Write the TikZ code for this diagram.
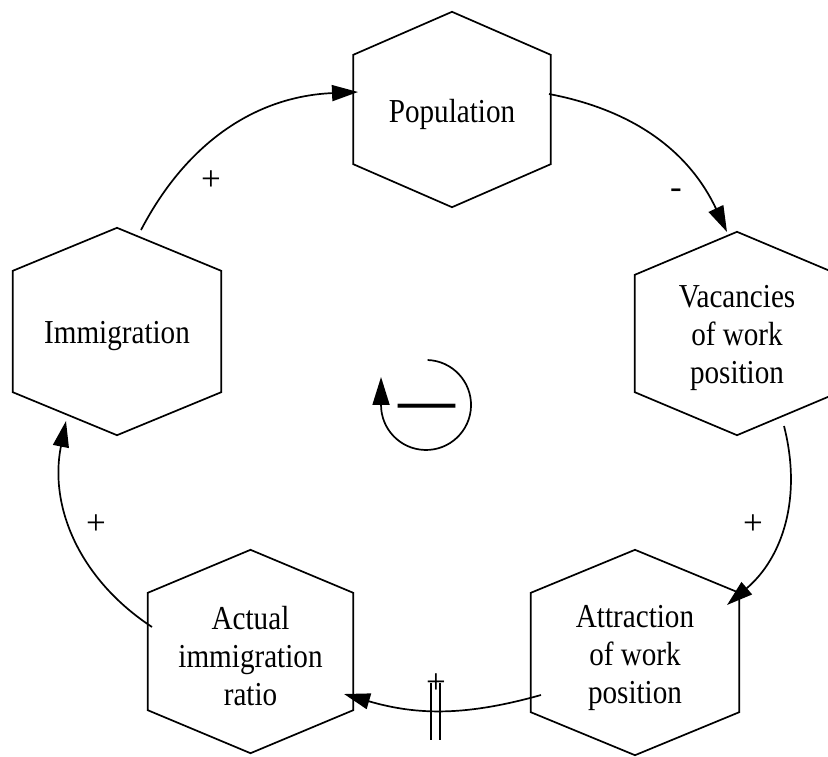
\documentclass[tikz,border=0pt]{standalone}
\usepackage{fontspec}
\setmainfont{Liberation Serif}[FakeStretch=0.87]
\newfontfamily\signfont{Liberation Serif}
\usetikzlibrary{arrows.meta,calc}
\begin{document}
\begin{tikzpicture}[x=1pt,y=-1pt,
  hexnode/.style={inner sep=0pt},
  hextext/.style={inner sep=0pt, align=center, font=\fontsize{33.5}{38}\selectfont},
  hexline/.style={line width=1.7pt, line join=miter},
  link/.style={line width=1.7pt, -{Triangle[length=26pt,width=16pt]}},
  sign/.style={font=\signfont\fontsize{35}{38}\selectfont, inner sep=0pt},
  delayline/.style={line width=1.7pt}]
\useasboundingbox (0,0) rectangle (828,756);
\clip (0,0) rectangle (828,756);

% variables (hexagon frames)
\node[hexnode, minimum width=197pt, minimum height=195pt] (pop) at (452,109.5) {};
\node[hexnode, minimum width=204pt, minimum height=203pt] (vac) at (737,333.5) {};
\node[hexnode, minimum width=208pt, minimum height=207pt] (imm) at (117,331.5) {};
\node[hexnode, minimum width=205pt, minimum height=203pt] (act) at (250.5,651.5) {};
\node[hexnode, minimum width=208pt, minimum height=205pt] (att) at (635,652.5) {};

% variable names
\node[hextext] (popt) at ([yshift=-5pt]pop.center) {Population};
\node[hextext] (vact) at ([yshift=-4pt]vac.center) {Vacancies\\of work\\position};
\node[hextext] (immt) at ([yshift=-5pt]imm.center) {Immigration};
\node[hextext] (actt) at ([yshift=-5pt]act.center) {Actual\\immigration\\ratio};
\node[hextext] (attt) at ([yshift=-5pt]att.center) {Attraction\\of work\\position};

\foreach \n in {pop,vac,imm,act,att}
  \draw[hexline] (\n.north) -- ([yshift=-43pt]\n.north east) -- ([yshift=43pt]\n.south east)
    -- (\n.south) -- ([yshift=43pt]\n.south west) -- ([yshift=-43pt]\n.north west) -- cycle;

% link end points
\coordinate (a1) at ($(imm)+(24,-101.5)$);
\coordinate (a2) at ($(pop)+(-94,-17.5)$);
\coordinate (b1) at ($(pop)+(97,-15.5)$);
\coordinate (b2) at ($(vac)+(-10,-101.5)$);
\coordinate (c1) at ($(vac)+(47,92.5)$);
\coordinate (c2) at ($(att)+(92,-47.5)$);
\coordinate (d1) at ($(att)+(-94,42.5)$);
\coordinate (d2) at ($(act)+(93.5,42.5)$);
\coordinate (e1) at ($(act)+(-98.5,-24.5)$);
\coordinate (e2) at ($(imm)+(-51,89.5)$);

% links
\draw[link] (a1) to[bend left=30] (a2);
\draw[link] (b1) to[bend left=27] (b2);
\draw[link] (c1) to[bend left=32] (c2);
\draw[link] (d1) to[bend left=16] (d2);
\draw[link] (e1) to[bend left=34] (e2);

% delay mark
\coordinate (dm) at (435.5,711);
\draw[delayline] ($(dm)+(-4.5,-28)$) -- ($(dm)+(-4.5,29)$);
\draw[delayline] ($(dm)+(4.5,-28)$) -- ($(dm)+(4.5,29)$);

% polarity signs
\node[sign] (sa) at (211,181) {+};
\node[sign] (sb) at (676,194) {-};
\node[sign] (sc) at (753,525) {+};
\node[sign] (sd) at (436,684) {+};
\node[sign] (se) at (96,525) {+};

% loop symbol
\coordinate (lc) at (426,405);
\draw[line width=1.7pt, -{Triangle[length=28pt,width=17pt]}]
  ($(lc)+(1.6,-45)$) arc[start angle=-88, end angle=180, radius=45] -- ++(0,-28);
\node[font=\signfont\bfseries\fontsize{57}{57}\selectfont, inner sep=0pt] (loopsign) at (426.5,412) {—};
\end{tikzpicture}
\end{document}
